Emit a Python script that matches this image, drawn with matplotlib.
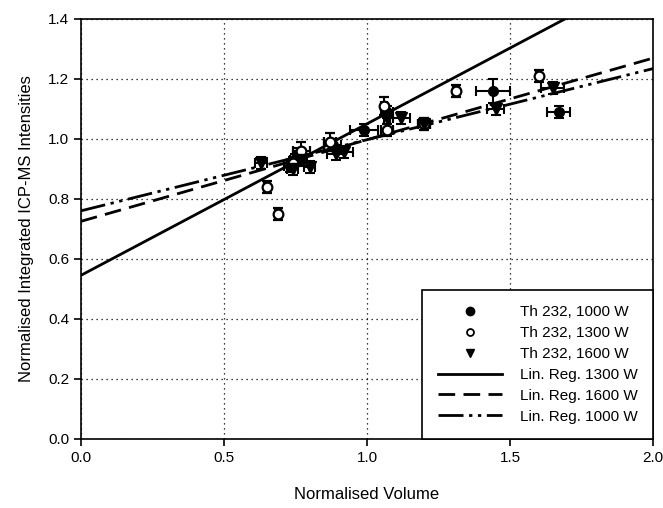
import matplotlib
matplotlib.use("Agg")
import matplotlib.pyplot as plt
import numpy as np
from matplotlib.lines import Line2D

plt.rcParams['font.family'] = ['Liberation Sans', 'DejaVu Sans']

# Data: Th 232, 1000 W (filled circles)
x1000 = [0.73, 0.75, 0.76, 0.88, 0.99, 1.07, 1.44, 1.67]
y1000 = [0.91, 0.93, 0.95, 0.98, 1.03, 1.09, 1.16, 1.09]
xe1000 = [0.02, 0.02, 0.02, 0.03, 0.05, 0.02, 0.06, 0.04]
ye1000 = [0.02, 0.02, 0.02, 0.02, 0.02, 0.02, 0.04, 0.02]

# Th 232, 1300 W (open circles)
x1300 = [0.65, 0.69, 0.74, 0.77, 0.87, 1.06, 1.07, 1.20, 1.31, 1.60]
y1300 = [0.84, 0.75, 0.92, 0.96, 0.99, 1.11, 1.03, 1.05, 1.16, 1.21]
xe1300 = [0.01, 0.01, 0.02, 0.03, 0.02, 0.01, 0.02, 0.02, 0.01, 0.01]
ye1300 = [0.02, 0.02, 0.02, 0.03, 0.03, 0.03, 0.02, 0.02, 0.02, 0.02]

# Th 232, 1600 W (filled down-triangles)
x1600 = [0.63, 0.74, 0.77, 0.80, 0.89, 0.92, 1.07, 1.12, 1.20, 1.45, 1.65]
y1600 = [0.92, 0.90, 0.93, 0.905, 0.95, 0.955, 1.07, 1.07, 1.05, 1.10, 1.17]
xe1600 = [0.02, 0.02, 0.02, 0.02, 0.03, 0.03, 0.01, 0.03, 0.02, 0.03, 0.04]
ye1600 = [0.02, 0.02, 0.02, 0.02, 0.02, 0.02, 0.02, 0.02, 0.02, 0.02, 0.02]

# Linear regressions (intercept, slope)
reg1300 = (0.545, 0.505)
reg1600 = (0.725, 0.272)
reg1000 = (0.760, 0.237)

xticks = [0, 0.5, 1.0, 1.5, 2.0]
xticklabels = ['0.0', '0.5', '1.0', '1.5', '2.0']
yticks = [0, 0.2, 0.4, 0.6, 0.8, 1.0, 1.2, 1.4]
yticklabels = ['0.0', '0.2', '0.4', '0.6', '0.8', '1.0', '1.2', '1.4']

fig = plt.figure(figsize=(6.63, 5.08), dpi=100)
ax = fig.add_axes([0.122, 0.136, 0.863, 0.827])

ax.grid(True, color='black', linestyle=(0, (1, 3)), linewidth=0.9)
ax.set_axisbelow(True)

ekw = dict(ecolor='black', elinewidth=1.5, capsize=3.5, capthick=1.5, linestyle='none')
ax.errorbar(x1000, y1000, xerr=xe1000, yerr=ye1000, fmt='o', mfc='black', mec='black',
            ms=7, **ekw)
ax.errorbar(x1300, y1300, xerr=xe1300, yerr=ye1300, fmt='o', mfc='white', mec='black',
            mew=1.6, ms=7, **ekw)
ax.errorbar(x1600, y1600, xerr=xe1600, yerr=ye1600, fmt='v', mfc='black', mec='black',
            ms=8, **ekw)

xs = np.array([0.0, 2.0])
ls1600 = (0, (6, 3))
ls1000 = (0, (9, 2, 1.2, 2, 1.2, 2))
ax.plot(xs, reg1300[0] + reg1300[1] * xs, color='black', lw=2, linestyle='-')
ax.plot(xs, reg1600[0] + reg1600[1] * xs, color='black', lw=2, linestyle=ls1600)
ax.plot(xs, reg1000[0] + reg1000[1] * xs, color='black', lw=2, linestyle=ls1000)

ax.set_xlim(0, 2.0)
ax.set_ylim(0, 1.4)
ax.set_xticks(xticks)
ax.set_xticklabels(xticklabels)
ax.set_yticks(yticks)
ax.set_yticklabels(yticklabels)
ax.tick_params(direction='out', length=5, width=1.2, labelsize=11, colors='black')
for s in ax.spines.values():
    s.set_linewidth(1.2)

ax.set_xlabel('Normalised Volume', fontsize=12, labelpad=16)
ax.set_ylabel('Normalised Integrated ICP-MS Intensities', fontsize=12, labelpad=10)

labels = ['Th 232, 1000 W', 'Th 232, 1300 W', 'Th 232, 1600 W',
          'Lin. Reg. 1300 W', 'Lin. Reg. 1600 W', 'Lin. Reg. 1000 W']
leg_handles = [
    Line2D([], [], marker='o', mfc='black', mec='black', ms=6, ls='none'),
    Line2D([], [], marker='o', mfc='white', mec='black', mew=1.3, ms=5, ls='none'),
    Line2D([], [], marker='v', mfc='black', mec='black', ms=6, ls='none'),
    Line2D([], [], color='black', lw=2, ls='-'),
    Line2D([], [], color='black', lw=2, ls=ls1600),
    Line2D([], [], color='black', lw=2, ls=ls1000),
]
leg = ax.legend(leg_handles, labels, loc='lower right',
                fontsize=11, frameon=True, fancybox=False, edgecolor='black',
                framealpha=1, borderaxespad=0, handlelength=4.2, labelspacing=0.45,
                borderpad=1.0, handletextpad=1.2)
leg.get_frame().set_linewidth(1.2)

fig.savefig('out.png', dpi=100)
